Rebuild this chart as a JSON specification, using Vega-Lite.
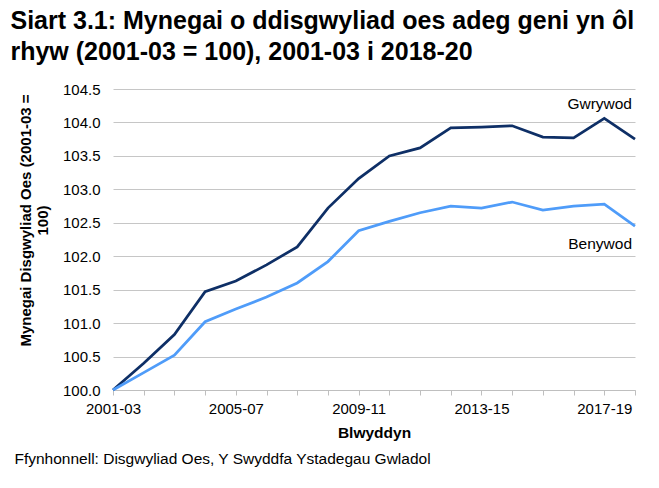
{
  "$schema": "https://vega.github.io/schema/vega-lite/v6.json",
  "background": "white",
  "padding": {"left": 10, "top": 9, "right": 20, "bottom": 10},
  "title": {
    "text": ["Siart 3.1: Mynegai o ddisgwyliad oes adeg geni yn ôl", "rhyw (2001-03 = 100), 2001-03 i 2018-20"],
    "anchor": "start",
    "frame": "bounds",
    "font": "Liberation Sans",
    "fontSize": 25,
    "fontWeight": "bold",
    "lineHeight": 31,
    "color": "#000000",
    "offset": 17,
    "dx": -4
  },
  "config": {
    "view": {"stroke": null},
    "font": "Liberation Sans"
  },
  "vconcat": [
    {
      "width": 522,
      "height": 301,
      "title": {
        "text": "Ffynhonnell: Disgwyliad Oes, Y Swyddfa Ystadegau Gwladol",
        "orient": "bottom",
        "anchor": "start",
        "frame": "bounds",
        "font": "Liberation Sans",
        "fontSize": 15.5,
        "fontWeight": "normal",
        "color": "#000000",
        "offset": 11,
        "dx": -4
      },
      "data": {
        "values": [
          {"period": "2001-03", "sex": "Gwrywod", "value": 100.00},
          {"period": "2002-04", "sex": "Gwrywod", "value": 100.40},
          {"period": "2003-05", "sex": "Gwrywod", "value": 100.83},
          {"period": "2004-06", "sex": "Gwrywod", "value": 101.47},
          {"period": "2005-07", "sex": "Gwrywod", "value": 101.63},
          {"period": "2006-08", "sex": "Gwrywod", "value": 101.87},
          {"period": "2007-09", "sex": "Gwrywod", "value": 102.14},
          {"period": "2008-10", "sex": "Gwrywod", "value": 102.72},
          {"period": "2009-11", "sex": "Gwrywod", "value": 103.16},
          {"period": "2010-12", "sex": "Gwrywod", "value": 103.50},
          {"period": "2011-13", "sex": "Gwrywod", "value": 103.62},
          {"period": "2012-14", "sex": "Gwrywod", "value": 103.92},
          {"period": "2013-15", "sex": "Gwrywod", "value": 103.93},
          {"period": "2014-16", "sex": "Gwrywod", "value": 103.95},
          {"period": "2015-17", "sex": "Gwrywod", "value": 103.78},
          {"period": "2016-18", "sex": "Gwrywod", "value": 103.77},
          {"period": "2017-19", "sex": "Gwrywod", "value": 104.06},
          {"period": "2018-20", "sex": "Gwrywod", "value": 103.75},
          {"period": "2001-03", "sex": "Benywod", "value": 100.00},
          {"period": "2002-04", "sex": "Benywod", "value": 100.26},
          {"period": "2003-05", "sex": "Benywod", "value": 100.52},
          {"period": "2004-06", "sex": "Benywod", "value": 101.02},
          {"period": "2005-07", "sex": "Benywod", "value": 101.21},
          {"period": "2006-08", "sex": "Benywod", "value": 101.39},
          {"period": "2007-09", "sex": "Benywod", "value": 101.60},
          {"period": "2008-10", "sex": "Benywod", "value": 101.92},
          {"period": "2009-11", "sex": "Benywod", "value": 102.38},
          {"period": "2010-12", "sex": "Benywod", "value": 102.52},
          {"period": "2011-13", "sex": "Benywod", "value": 102.65},
          {"period": "2012-14", "sex": "Benywod", "value": 102.75},
          {"period": "2013-15", "sex": "Benywod", "value": 102.72},
          {"period": "2014-16", "sex": "Benywod", "value": 102.81},
          {"period": "2015-17", "sex": "Benywod", "value": 102.69},
          {"period": "2016-18", "sex": "Benywod", "value": 102.75},
          {"period": "2017-19", "sex": "Benywod", "value": 102.78},
          {"period": "2018-20", "sex": "Benywod", "value": 102.45}
        ]
      },
      "encoding": {
        "x": {
          "field": "period",
          "type": "ordinal",
          "sort": null,
          "scale": {"type": "point", "padding": 0},
          "axis": {
            "title": "Blwyddyn",
            "titleFont": "Liberation Sans",
            "titleFontSize": 15.5,
            "titleFontWeight": "bold",
            "titleColor": "#000000",
            "titlePadding": 9,
            "labelAngle": 0,
            "labelFont": "Liberation Sans",
            "labelFontSize": 15,
            "labelColor": "#000000",
            "labelPadding": 6,
            "labelOverlap": false,
            "labelExpr": "indexof(['2001-03','2005-07','2009-11','2013-15','2017-19'], datum.value) >= 0 ? datum.value : ''",
            "tickSize": 5,
            "tickColor": "#BFBFBF",
            "domainColor": "#BFBFBF",
            "grid": false
          }
        },
        "y": {
          "field": "value",
          "type": "quantitative",
          "scale": {"domain": [100, 104.5], "nice": false, "zero": false},
          "axis": {
            "title": ["Mynegai Disgwyliad Oes (2001-03 =", "100)"],
            "titleFont": "Liberation Sans",
            "titleFontSize": 15,
            "titleFontWeight": "bold",
            "titleColor": "#000000",
            "titleLineHeight": 17,
            "titlePadding": 12,
            "titleY": 131,
            "values": [100, 100.5, 101, 101.5, 102, 102.5, 103, 103.5, 104, 104.5],
            "format": ".1f",
            "labelFont": "Liberation Sans",
            "labelFontSize": 15,
            "labelColor": "#000000",
            "labelPadding": 13,
            "ticks": false,
            "domain": false,
            "grid": true,
            "gridColor": "#C6C6C6",
            "gridWidth": 1
          }
        }
      },
      "layer": [
        {
          "mark": {"type": "line", "strokeWidth": 2.75, "strokeJoin": "miter"},
          "encoding": {
            "color": {
              "field": "sex",
              "type": "nominal",
              "scale": {"domain": ["Gwrywod", "Benywod"], "range": ["#0E2F66", "#4F9CF9"]},
              "legend": null
            }
          }
        },
        {
          "transform": [{"filter": "datum.period == '2018-20' && datum.sex == 'Gwrywod'"}],
          "mark": {"type": "text", "align": "right", "baseline": "middle", "dx": -3, "dy": -35, "font": "Liberation Sans", "fontSize": 15.5, "color": "#000000"},
          "encoding": {"text": {"field": "sex"}}
        },
        {
          "transform": [{"filter": "datum.period == '2018-20' && datum.sex == 'Benywod'"}],
          "mark": {"type": "text", "align": "right", "baseline": "middle", "dx": -3, "dy": 18, "font": "Liberation Sans", "fontSize": 15.5, "color": "#000000"},
          "encoding": {"text": {"field": "sex"}}
        }
      ]
    }
  ]
}
